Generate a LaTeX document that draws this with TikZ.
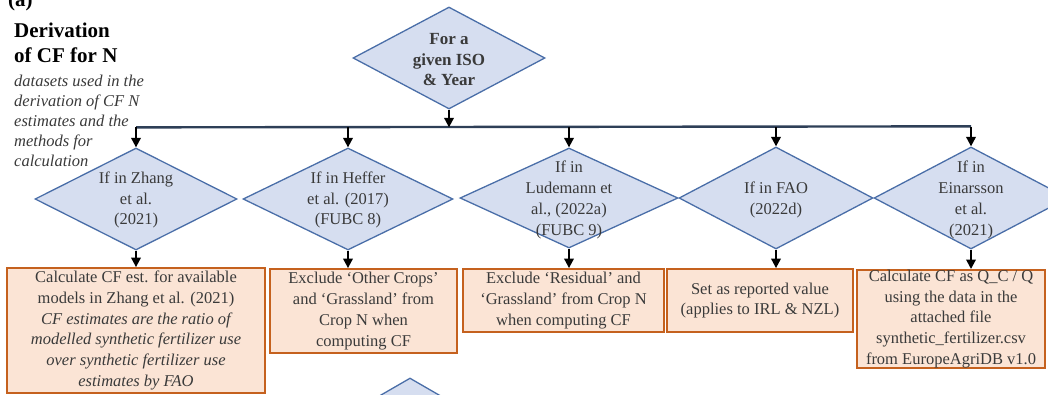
\documentclass[tikz,border=0pt]{standalone}
\usepackage{fontspec}
\setmainfont{Liberation Serif}
\usetikzlibrary{shapes.geometric,arrows.meta}
\definecolor{diafill}{HTML}{D6DEF0}
\definecolor{diadraw}{HTML}{4A6EA8}
\definecolor{boxfill}{HTML}{FBE4D5}
\definecolor{boxdraw}{HTML}{C5611E}
\definecolor{bartint}{HTML}{2E3F57}
\definecolor{txt}{HTML}{3A3A3A}
\begin{document}
\begin{tikzpicture}[x=1pt,y=-1pt,
  dia/.style={diamond, draw=diadraw, fill=diafill, line width=1.3pt, inner sep=0pt},
  dtext/.style={text=txt, font=\fontsize{16.5}{20.8}\selectfont, align=center, inner sep=0pt},
  bx/.style={rectangle, draw=boxdraw, fill=boxfill, line width=1.8pt, text=txt,
    font=\fontsize{16.5}{20.8}\selectfont, align=center, inner sep=0pt},
  arr/.style={-{Triangle[length=9.5pt,width=9.5pt]}, line width=2pt, black},
  barline/.style={line width=2.4pt, bartint}]
\useasboundingbox (0,0) rectangle (1048,394);
\clip (0,0) rectangle (1048,394);

% title block
\node[anchor=base west, inner sep=0pt, font=\bfseries\fontsize{21}{25}\selectfont] (lab) at (8,6) {(a)};
\node[anchor=base west, align=left, inner sep=0pt, font=\bfseries\fontsize{21}{25}\selectfont] (title) at (14,62) {Derivation\\of CF for N};
\node[anchor=base west, align=left, inner sep=0pt, text=txt, font=\itshape\fontsize{16.5}{20}\selectfont] (desc) at (14,166) {datasets used in the\\derivation of CF N\\estimates and the\\methods for\\calculation};

% top decision
\node[dia, minimum width=192pt, minimum height=102pt] (top) at (449,58) {};
\node[dtext, font=\bfseries\fontsize{17}{20.5}\selectfont] (toptext) at (449,60) {For a\\given ISO\\\& Year};

% second-level decisions
\node[dia, minimum width=202pt, minimum height=102pt] (z) at (136,199) {};
\node[dia, minimum width=210pt, minimum height=102pt] (h) at (348,199) {};
\node[dia, minimum width=218pt, minimum height=100pt] (l) at (569,198) {};
\node[dia, minimum width=194pt, minimum height=102pt] (f) at (776,198) {};
\node[dia, minimum width=194pt, minimum height=102pt] (e) at (971,198) {};

\node[dtext] (zt) at (136,200) {If in Zhang\\et al.\\(2021)};
\node[dtext] (ht) at (348,200) {If in Heffer\\et al. (2017)\\(FUBC 8)};
\node[dtext] (lt) at (569,200) {If in\\Ludemann et\\al., (2022a)\\(FUBC 9)};
\node[dtext] (ft) at (776,200) {If in FAO\\(2022d)};
\node[dtext] (et) at (971,200) {If in\\Einarsson\\et al.\\(2021)};

% boxes
\node[bx, minimum width=258pt, minimum height=125pt] (b1) at (136,330.5)
  {Calculate CF est. for available\\models in Zhang et al. (2021)\\\itshape CF estimates are the ratio of\\\itshape modelled synthetic fertilizer use\\\itshape over synthetic fertilizer use\\\itshape estimates by FAO};
\node[bx, minimum width=187pt, minimum height=84pt] (b2) at (363.5,311)
  {Exclude ‘Other Crops’\\and ‘Grassland’ from\\Crop N when\\computing CF};
\node[bx, minimum width=201pt, minimum height=63pt] (b3) at (563.5,300.5)
  {Exclude ‘Residual’ and\\‘Grassland’ from Crop N\\when computing CF};
\node[bx, minimum width=186pt, minimum height=63pt] (b4) at (760,300.5)
  {Set as reported value\\(applies to IRL \& NZL)};
\node[bx, minimum width=188pt, minimum height=98pt] (b5) at (951,319)
  {Calculate CF as Q\_C / Q\\using the data in the\\attached file\\synthetic\_fertilizer.csv\\from EuropeAgriDB v1.0};

% partially visible next decision
\node[dia, minimum width=190pt, minimum height=110pt] (next) at (410,433) {};

% connectors
\path (z.north) ++(0,-20) coordinate (bL);
\path (e.north) ++(0,-20) coordinate (bR);
\draw[barline] (bL) -- (bR);
\draw[arr] (top.south) -- (top.south |- bL);
\foreach \n in {z,h,l,f,e} {\draw[arr] (\n.north |- bL) -- (\n.north);}
\draw[arr] (z.south) -- (z.south |- b1.north);
\draw[arr] (h.south) -- (h.south |- b2.north);
\draw[arr] (l.south) -- (l.south |- b3.north);
\draw[arr] (f.south) -- (f.south |- b4.north);
\draw[arr] (e.south) -- (e.south |- b5.north);
\end{tikzpicture}
\end{document}
